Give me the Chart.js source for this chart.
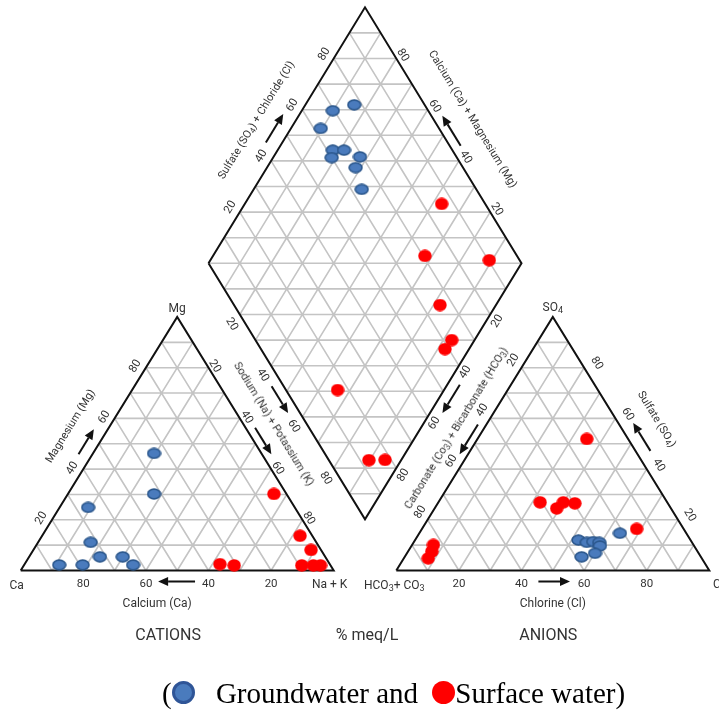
<!DOCTYPE html>
<html>
<head>
<meta charset="utf-8">
<script src="https://cdn.jsdelivr.net/npm/chart.js"></script>
<style>
  html, body { margin: 0; padding: 0; background: #fff; }
  #wrap { position: relative; width: 719px; height: 711px; overflow: hidden; }
  #piper { position: absolute; left: 0; top: 0; }
  .lbl { position: absolute; white-space: nowrap; font-family: Roboto, 'Open Sans', sans-serif;
         font-size: 11.5px; color: #333; line-height: 1; }
  .lbl sub { font-size: 75%; vertical-align: -2px; line-height: 0; }
  .title { font-size: 11px; }
  .axis { font-size: 12px; }
  .big { font-size: 16px; }
  #legend { position: absolute; left: 162px; top: 679px; font-family: 'Liberation Serif', 'Times New Roman', serif;
            font-size: 29px; line-height: 29px; color: #000; white-space: nowrap; }
  .dot { display: inline-block; width: 23px; height: 23px; border-radius: 50%; box-sizing: border-box; vertical-align: -1px; }
  .dot.gw { background: #4a7bbd; border: 3px solid #2f5597; margin-right: 14px; }
  .dot.sw { background: #ff0000; margin-left: 7px; }
</style>
</head>
<body>
<div id="wrap">
  <canvas id="piper" width="719" height="711"></canvas>
  <div id="legend">(<span class="dot gw"></span> Groundwater and <span class="dot sw"></span>Surface water)</div>
</div>
<script>
// Cation triangle: [Ca %, Mg %]  (Na+K = rest)
const gwCations = [[34.3, 46.2], [42.3, 30.2], [66.0, 24.9], [72.1, 11.1], [72.0, 5.4],
                   [64.7, 5.4], [63.0, 2.2], [86.6, 2.2], [79.1, 2.2]];
const swCations = [[4.0, 30.2], [35.1, 2.5], [30.8, 2.0], [3.9, 13.7], [3.2, 8.1],
                   [9.2, 2.0], [5.5, 2.0], [3.2, 2.0]];

// Anion triangle: [Cl %, SO4 %]  (HCO3+CO3 = rest)
const gwAnions = [[52.2, 12.0], [55.3, 11.1], [57.2, 11.4], [59.3, 11.1], [60.2, 9.7],
                  [60.1, 6.8], [56.5, 5.4], [64.1, 14.7]];
const swAnions = [[34.9, 51.9], [32.5, 26.9], [39.0, 24.5], [39.9, 26.9], [43.8, 26.5],
                  [68.6, 16.4], [6.8, 10.1], [7.6, 7.5], [7.8, 4.8]];

// Diamond: [Na+K %, SO4+Cl %]
const gwDiamond = [[15.6, 77.5], [9.9, 69.5], [9.5, 62.2], [17.6, 61.8], [21.2, 65.4],
                   [18.7, 60.0], [27.6, 69.2], [28.3, 65.7], [34.5, 63.4]];
const swDiamond = [[62.9, 86.1], [67.7, 70.6], [89.1, 90.3], [82.1, 65.8], [92.7, 62.7],
                   [92.3, 58.8], [66.0, 16.5], [89.7, 12.8], [94.8, 18.0]];

const tickValues = [20, 40, 60, 80];

// Geometry helpers (ternary % -> plot units)
const H = Math.sqrt(3) / 2;      // triangle height per %
const DH = 0.8746;               // diamond half-height per % (drawn a bit taller in the source)
const GAP = 20;
function cat(ca, mg) { const nak = 100 - ca - mg; return { x: nak + mg / 2, y: mg * H }; }
function an(cl, so4) { return { x: 100 + GAP + cl + so4 / 2, y: so4 * H }; }
const DL = { x: 50 + GAP / 2, y: GAP * DH + 100 * DH }; // diamond left corner
function dia(nak, s) { return { x: DL.x + 0.5 * nak + 0.5 * s, y: DL.y + DH * (s - nak) }; }

// Grid segments, separated by gaps
const gridPts = [];
function seg(a, b) { gridPts.push(a, b, { x: null, y: null }); }
for (let k = 10; k < 100; k += 10) {
    seg(cat(100 - k, k), cat(0, k));
    seg(cat(k, 0), cat(k, 100 - k));
    seg(cat(100 - k, 0), cat(0, 100 - k));
    seg(an(0, k), an(100 - k, k));
    seg(an(k, 0), an(k, 100 - k));
    seg(an(100 - k, 0), an(0, 100 - k));
    seg(dia(k, 0), dia(k, 100));
    seg(dia(0, k), dia(100, k));
}
for (let k = -90; k < 100; k += 10) {
    if (k >= 0) seg(dia(0, k), dia(100 - k, 100));
    else seg(dia(-k, 0), dia(100, 100 + k));
}

const edgePts = [
    cat(100, 0), cat(0, 100), cat(0, 0), cat(100, 0), { x: null, y: null },
    an(0, 0), an(0, 100), an(100, 0), an(0, 0), { x: null, y: null },
    dia(0, 0), dia(0, 100), dia(100, 100), dia(100, 0), dia(0, 0)
];

// Markers
function makeMarker(w, h, fill, stroke, lw) {
    const c = document.createElement('canvas');
    c.width = w; c.height = h;
    const g = c.getContext('2d');
    g.beginPath();
    g.ellipse(w / 2, h / 2, w / 2 - lw / 2 - 0.3, h / 2 - lw / 2 - 0.3, 0, 0, Math.PI * 2);
    g.fillStyle = fill;
    g.fill();
    if (stroke) { g.lineWidth = lw; g.strokeStyle = stroke; g.stroke(); }
    return c;
}
const blueMark = makeMarker(15, 12, '#4a7bbd', '#2b578c', 1.6);
const redMark = makeMarker(14, 13, '#ff0000', null, 0);

const gwPoints = [].concat(
    gwCations.map(d => cat(d[0], d[1])),
    gwAnions.map(d => an(d[0], d[1])),
    gwDiamond.map(d => dia(d[0], d[1]))
);
const swPoints = [].concat(
    swCations.map(d => cat(d[0], d[1])),
    swAnions.map(d => an(d[0], d[1])),
    swDiamond.map(d => dia(d[0], d[1]))
);

// Arrows: from/to anchors in plot units, plus a pixel offset
const arrows = [
    { from: cat(44.3, 0), to: cat(56.1, 0), dx: 0, dy: 11 },
    { from: an(45.4, 0), to: an(55.5, 0), dx: 0, dy: 11 },
    { from: cat(54.1, 45.9), to: cat(44.3, 55.7), dx: -14, dy: 0 },
    { from: cat(0, 56.3), to: cat(0, 45.9), dx: 9.5, dy: 0 },
    { from: dia(48, 0), to: dia(58.5, 0), dx: -12, dy: 0 },
    { from: dia(0, 47.2), to: dia(0, 58.3), dx: -16.5, dy: 0 },
    { from: dia(54.1, 100), to: dia(42.4, 100), dx: 11, dy: 0 },
    { from: dia(100, 52.6), to: dia(100, 41.5), dx: 12.5, dy: 0 },
    { from: an(0, 57.6), to: an(0, 45.9), dx: -8.5, dy: 0 },
    { from: an(52.8, 47.2), to: an(41.8, 58.2), dx: 15, dy: 0 }
];

const arrowPlugin = {
    id: 'arrows',
    afterDatasetsDraw(chart) {
        const ctx = chart.ctx, xs = chart.scales.x, ys = chart.scales.y;
        ctx.save();
        ctx.strokeStyle = '#111';
        ctx.fillStyle = '#111';
        ctx.lineWidth = 2;
        arrows.forEach(a => {
            const x1 = xs.getPixelForValue(a.from.x) + a.dx, y1 = ys.getPixelForValue(a.from.y) + a.dy;
            const x2 = xs.getPixelForValue(a.to.x) + a.dx, y2 = ys.getPixelForValue(a.to.y) + a.dy;
            const ang = Math.atan2(y2 - y1, x2 - x1);
            const len = 10, wid = 4.5;
            const bx = x2 - len * Math.cos(ang), by = y2 - len * Math.sin(ang);
            ctx.beginPath();
            ctx.moveTo(x1, y1);
            ctx.lineTo(bx, by);
            ctx.stroke();
            ctx.beginPath();
            ctx.moveTo(x2, y2);
            ctx.lineTo(bx + wid * Math.sin(ang), by - wid * Math.cos(ang));
            ctx.lineTo(bx - wid * Math.sin(ang), by + wid * Math.cos(ang));
            ctx.closePath();
            ctx.fill();
        });
        ctx.restore();
    }
};

const chart = new Chart(document.getElementById('piper'), {
    type: 'scatter',
    data: {
        datasets: [
            { label: 'Groundwater', data: gwPoints, pointStyle: blueMark, pointRadius: 6, order: 0 },
            { label: 'Surface water', data: swPoints, pointStyle: redMark, pointRadius: 6, order: 0 },
            { label: 'edges', data: edgePts, showLine: true, pointRadius: 0, borderColor: '#111',
              borderWidth: 2, spanGaps: false, borderJoinStyle: 'miter', order: 1 },
            { label: 'grid', data: gridPts, showLine: true, pointRadius: 0, borderColor: '#c4c4c4',
              borderWidth: 1.6, spanGaps: false, order: 2 }
        ]
    },
    options: {
        responsive: false,
        animation: false,
        layout: { padding: 0, autoPadding: false },
        plugins: { legend: { display: false }, tooltip: { enabled: false } },
        scales: {
            x: { type: 'linear', display: false, min: -6.613, max: 223.1 },
            y: { type: 'linear', display: false, min: -48.0, max: 194.91 }
        }
    },
    plugins: [arrowPlugin]
});

// Text labels placed from plot units
const wrap = document.getElementById('wrap');
function label(html, pt, dx, dy, rot, cls) {
    const el = document.createElement('div');
    el.className = 'lbl' + (cls ? ' ' + cls : '');
    el.innerHTML = html;
    el.style.left = (chart.scales.x.getPixelForValue(pt.x) + dx) + 'px';
    el.style.top = (chart.scales.y.getPixelForValue(pt.y) + dy) + 'px';
    el.style.transform = 'translate(-50%,-50%) rotate(' + (rot || 0) + 'deg)';
    wrap.appendChild(el);
}
const R = 58.5;
tickValues.forEach(v => {
    label(String(v), cat(v, 0), 0, 13, 0);
    label(String(v), cat(100 - v, v), -11, -1.5, -R);
    label(String(v), cat(0, 100 - v), 7, -1.5, R);
    label(String(v), dia(0, v), -10, -5, -R);
    label(String(v), dia(100 - v, 100), 7, -3.5, R);
    label(String(v), dia(v, 0), -8, 9.5, R);
    label(String(v), dia(100, 100 - v), 6.5, 6.5, -R);
    label(String(v), an(v, 0), 0, 13, 0);
    label(String(v), an(0, 100 - v), -8, -8, -R);
    label(String(v), an(100 - v, v), 12.5, -4.5, R);
});
const midBase = { x: dia(100, 0).x, y: 0 };
label('Mg', cat(0, 100), 0, -9, 0, 'axis');
label('Ca', cat(100, 0), -4, 14, 0, 'axis');
label('Na + K', cat(0, 0), -4, 13, 0, 'axis');
label('SO<sub>4</sub>', an(0, 100), 0, -10, 0, 'axis');
label('HCO<sub>3</sub>+ CO<sub>3</sub>', an(0, 0), -2, 14, 0, 'axis');
label('Cl', an(100, 0), 9, 13, 0, 'axis');
label('Calcium (Ca)', cat(50, 0), -20, 32.5, 0, 'axis');
label('Chlorine (Cl)', an(50, 0), 0, 32.5, 0, 'axis');
label('Magnesium (Mg)', cat(50, 50), -29, -18, -R, 'title');
label('Sodium (Na) + Potassium (K)', cat(0, 50), 18.5, -20, R, 'title');
label('Sulfate (SO<sub>4</sub>) + Chloride (Cl)', dia(0, 50), -30.8, -15.3, -R, 'title');
label('Calcium (Ca) + Magnesium (Mg)', dia(50, 100), 29.8, -16.3, R, 'title');
label('Carbonate (Co<sub>3</sub>) + Bicarbonate (HCO<sub>3</sub>)', an(0, 50), -18.6, -15.8, -R, 'title');
label('Sulfate (SO<sub>4</sub>)', an(50, 50), 26, -24.8, R, 'title');
label('CATIONS', cat(50, 0), -9, 64.5, 0, 'big');
label('% meq/L', midBase, 2, 64.5, 0, 'big');
label('ANIONS', an(50, 0), -4.5, 64.5, 0, 'big');
</script>
</body>
</html>
